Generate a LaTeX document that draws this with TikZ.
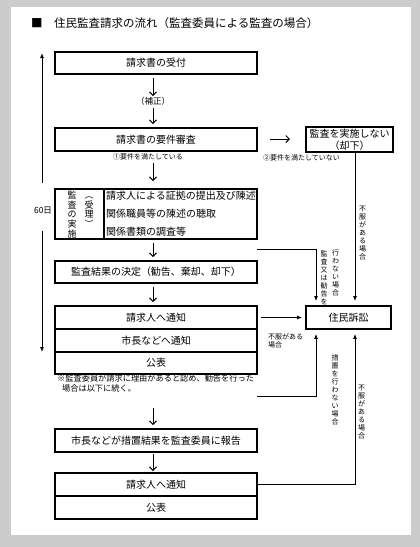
\documentclass[tikz,border=0pt]{standalone}
\usepackage{fontspec}
\setmainfont{Noto Sans CJK JP}
\usetikzlibrary{arrows.meta,calc}
\newcommand{\fsz}[1]{\fontsize{#1pt}{#1pt}\selectfont}
\begin{document}
\begin{tikzpicture}[x=1pt,y=-1pt,
  box/.style={draw, line width=1.8pt, inner sep=0pt, minimum width=202pt, font=\fsz{10}},
  downarr/.style={line width=1pt, -{Straight Barb[length=3.5pt,width=7pt]}},
  conn/.style={line width=0.9pt, -{Latex[length=5pt,width=4pt]}},
  plain/.style={line width=0.9pt},
  small/.style={inner sep=0pt, font=\fsz{7}},
  vtext/.style={inner sep=0pt, align=center, font=\fontsize{7pt}{8pt}\selectfont},
  lbl/.style={inner sep=0pt}
]
% background
\fill[gray!40] (0,0) rectangle (420,547);
\fill[white] (11,7) rectangle (411,535);
\useasboundingbox (0,0) rectangle (420,547);

% title
\node[lbl, anchor=west, font=\fsz{11.5}] (title) at (31,23) {■　住民監査請求の流れ（監査委員による監査の場合）};

% main column
\node[box, minimum height=22pt] (b1) at (156,63) {請求書の受付};
\coordinate (a1s) at (153,78); \coordinate (a1e) at (153,96);
\draw[downarr] (a1s) -- (a1e);
\node[lbl, font=\fsz{8.5}] (hosei) at (153,101) {（補正）};
\coordinate (a2s) at (153,108); \coordinate (a2e) at (153,124);
\draw[downarr] (a2s) -- (a2e);

\node[box, minimum height=23pt] (b2) at (156,139.5) {請求書の要件審査};
\coordinate (r1s) at (270,139); \coordinate (r1e) at (290,139);
\draw[downarr] (r1s) -- (r1e);
\node[draw, line width=1.8pt, inner sep=0pt, minimum width=87pt, minimum height=25pt, align=center, font=\fontsize{10pt}{12pt}\selectfont] (nr) at (349.5,139.5) {監査を実施しない\\（却下）};

\node[small] (ok) at (148,157) {①要件を満たしている};
\node[small] (ng) at (301.5,157.5) {②要件を満たしていない};

\coordinate (a3s) at (153,163); \coordinate (a3e) at (153,181);
\draw[downarr] (a3s) -- (a3e);

% audit box
\node[draw, line width=1.8pt, inner sep=0pt, minimum width=49pt, minimum height=50pt] (b3l) at (79.5,214) {};
\node[draw, line width=1.8pt, inner sep=0pt, minimum width=153pt, minimum height=50pt] (b3r) at (180.5,214) {};
\node[lbl, align=center, font=\fontsize{9pt}{9.6pt}\selectfont] (kansa) at (72,214.5) {監\\査\\の\\実\\施};
\node[lbl, align=center, font=\fontsize{9pt}{9.6pt}\selectfont] (juri) at (89,212) {︵\\受\\理\\︶};
\node[lbl, anchor=west, font=\fsz{10}] (t31) at (106,196) {請求人による証拠の提出及び陳述};
\node[lbl, anchor=west, font=\fsz{10}] (t32) at (106,214) {関係職員等の陳述の聴取};
\node[lbl, anchor=west, font=\fsz{10}] (t33) at (106,231.5) {関係書類の調査等};

\coordinate (a4s) at (153,243); \coordinate (a4e) at (153,257);
\draw[downarr] (a4s) -- (a4e);
\node[box, minimum height=22pt] (b4) at (156,272) {監査結果の決定（勧告、棄却、却下）};
\coordinate (a5s) at (153,287); \coordinate (a5e) at (153,302);
\draw[downarr] (a5s) -- (a5e);

\node[box, minimum height=23pt] (b5a) at (156,317.5) {請求人へ通知};
\node[box, minimum height=23pt] (b5b) at (156,340.5) {市長などへ通知};
\node[box, minimum height=22pt] (b5c) at (156,363) {公表};

\node[lbl, anchor=west, font=\fsz{8.2}] (note1) at (57,378.5) {※監査委員が請求に理由があると認め、勧告を行った};
\node[lbl, anchor=west, font=\fsz{8.2}] (note2) at (62,388.5) {場合は以下に続く。};

\coordinate (a6s) at (153,408); \coordinate (a6e) at (153,425);
\draw[downarr] (a6s) -- (a6e);
\node[box, line width=2.2pt, minimum height=23pt] (b6) at (156,440.5) {市長などが措置結果を監査委員に報告};
\coordinate (a7s) at (153,454); \coordinate (a7e) at (153,471);
\draw[downarr] (a7s) -- (a7e);
\node[box, minimum height=23pt] (b7a) at (156,484.5) {請求人へ通知};
\node[box, minimum height=23pt] (b7b) at (156,507.5) {公表};

% 60 days
\node[lbl, font=\fsz{8.5}] (d60) at (43,211) {60日};
\coordinate (d60t) at (42,183); \coordinate (d60b) at (42,231);
\coordinate (d60top) at (42,53); \coordinate (d60bot) at (42,352);
\draw[conn] (d60t) -- (d60top);
\draw[conn] (d60b) -- (d60bot);

% lawsuit
\node[draw, line width=1.8pt, inner sep=0pt, minimum width=85pt, minimum height=23pt, font=\fsz{10}] (soshou) at (348.5,317.5) {住民訴訟};

\coordinate (xl) at (316,0);
\coordinate (xr) at (355,0);
\coordinate (c1) at (257,249);
\coordinate (c2) at (257,396);

\draw[conn, shorten >=4pt] (c1) -| (soshou.north -| xl);
\draw[conn, shorten >=4pt] (nr.south -| xr) -- (soshou.north -| xr);
\draw[conn, shorten <=3pt, shorten >=3pt] (b5a.east) -- (soshou.west);
\draw[conn, shorten >=4pt] (c2) -| (soshou.south -| xl);
\draw[conn, shorten >=4pt] (b7a.east) -| (soshou.south -| xr);

% labels on connectors
\node[vtext] (l1) at (362.5,233) {不\\服\\が\\あ\\る\\場\\合};
\node[vtext] (l2a) at (324,277.5) {監\\査\\又\\は\\勧\\告\\を};
\node[vtext] (l2b) at (335.5,273) {行\\わ\\な\\い\\場\\合};
\node[lbl, anchor=west, align=left, font=\fontsize{7pt}{8.5pt}\selectfont] (l3) at (268,341) {不服がある\\場合};
\node[vtext] (l4) at (335,390) {措\\置\\を\\行\\わ\\な\\い\\場\\合};
\node[vtext] (l5) at (361.5,412) {不\\服\\が\\あ\\る\\場\\合};
\end{tikzpicture}
\end{document}
